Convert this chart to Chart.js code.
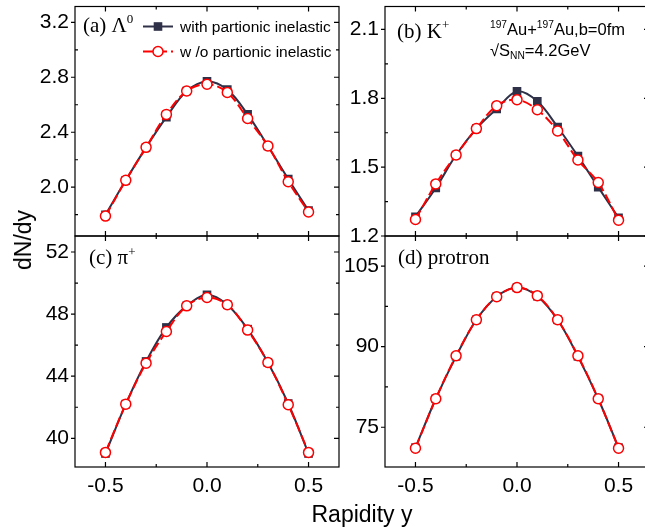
<!DOCTYPE html>
<html>
<head>
<meta charset="utf-8">
<script src="https://cdn.jsdelivr.net/npm/chart.js@4.4.1/dist/chart.umd.min.js"></script>
<style>
  html, body { margin: 0; padding: 0; background: #fff; }
  body { width: 645px; height: 529px; overflow: hidden; position: relative; }
  canvas { position: absolute; left: 0; top: 0; }
  .axis-title { position: absolute; font-family: 'Liberation Sans', Arial, sans-serif; font-size: 23px; color: #000; white-space: nowrap; line-height: 26px; }
  #ytitle { left: 23px; top: 240px; transform: translate(-50%, -50%) rotate(-90deg); }
  #xtitle { left: 362px; top: 501px; transform: translateX(-50%); }
</style>
</head>
<body>
<canvas id="panelA" width="660" height="529"></canvas>
<canvas id="panelB" width="660" height="529"></canvas>
<canvas id="panelC" width="660" height="529"></canvas>
<canvas id="panelD" width="660" height="529"></canvas>
<div class="axis-title" id="ytitle">dN/dy</div>
<div class="axis-title" id="xtitle">Rapidity y</div>
<script>
// rapidity bins (x) shared by all four panels
const rapidity = [-0.5, -0.4, -0.3, -0.2, -0.1, 0.0, 0.1, 0.2, 0.3, 0.4, 0.5];

const lambdaWith    = [1.80, 2.05, 2.29, 2.51, 2.70, 2.77, 2.71, 2.53, 2.30, 2.06, 1.83];
const lambdaWithout = [1.79, 2.05, 2.29, 2.53, 2.70, 2.75, 2.69, 2.50, 2.30, 2.04, 1.82];

const kaonWith    = [1.284, 1.409, 1.553, 1.668, 1.754, 1.830, 1.787, 1.675, 1.548, 1.413, 1.279];
const kaonWithout = [1.272, 1.427, 1.553, 1.668, 1.768, 1.794, 1.750, 1.658, 1.531, 1.433, 1.269];

const pionWith    = [39.02, 42.20, 44.95, 47.14, 48.53, 49.24, 48.60, 47.03, 44.88, 42.24, 39.02];
const pionWithout = [39.09, 42.20, 44.84, 46.88, 48.53, 49.07, 48.60, 46.97, 44.88, 42.16, 39.09];

const protonWith    = [71.2, 80.3, 88.2, 95.0, 99.3, 101.0, 99.4, 95.0, 88.2, 80.3, 71.2];
const protonWithout = [71.1, 80.3, 88.3, 95.0, 99.3, 101.0, 99.5, 95.0, 88.3, 80.3, 71.1];

// tick labels
const xTicks      = [-0.5, 0.0, 0.5];
const lambdaTicks = [2.0, 2.4, 2.8, 3.2];
const kaonTicks   = [1.2, 1.5, 1.8, 2.1];
const pionTicks   = [40, 44, 48, 52];
const protonTicks = [75, 90, 105];

const seriesNames = ['with partionic inelastic', 'w /o partionic inelastic'];

const darkLine = '#2e3148';
const redLine = '#ff0000';
const sans = "'Liberation Sans', Arial, sans-serif";
const serif = "'Liberation Serif', 'Times New Roman', serif";

Chart.defaults.font.family = sans;
Chart.defaults.font.size = 21;
Chart.defaults.color = '#000';

function toPoints(vals) {
    return rapidity.map((x, i) => ({ x: x, y: vals[i] }));
}

function minorsOf(majors, min, max) {
    const step = majors[1] - majors[0];
    let out = majors.map(v => v - step / 2);
    out.push(majors[majors.length - 1] + step / 2);
    return out.filter(v => v > min && v < max);
}

function drawRich(ctx, x, y, parts, size, family) {
    ctx.textBaseline = 'alphabetic';
    ctx.textAlign = 'left';
    for (const p of parts) {
        const s = (p.sup || p.sub) ? size * 0.62 : size;
        ctx.font = s + 'px ' + family;
        const dy = p.sup ? -size * 0.4 : (p.sub ? size * 0.2 : 0);
        ctx.fillText(p.t, x, y + dy);
        x += ctx.measureText(p.t).width;
    }
}

function zeroPad(s) {
    s.paddingTop = 0; s.paddingBottom = 0; s.paddingLeft = 0; s.paddingRight = 0;
}

function makePanel(id, cfg) {
    const yMinor = minorsOf(cfg.yTicks, cfg.yMin, cfg.yMax);
    const xMinor = minorsOf(xTicks, -0.65, 0.65);

    const frame = {
        id: 'frame',
        afterDraw(chart) {
            const ctx = chart.ctx;
            const a = chart.chartArea;
            const xs = chart.scales.x, ys = chart.scales.y;
            ctx.save();
            ctx.strokeStyle = '#000';
            ctx.lineWidth = 1.2;
            ctx.strokeRect(a.left, a.top, a.right - a.left, a.bottom - a.top);
            ctx.beginPath();
            xTicks.forEach(v => {
                const px = xs.getPixelForValue(v);
                ctx.moveTo(px, a.bottom); ctx.lineTo(px, a.bottom - 5);
                ctx.moveTo(px, a.top); ctx.lineTo(px, a.top + 5);
            });
            xMinor.forEach(v => {
                const px = xs.getPixelForValue(v);
                ctx.moveTo(px, a.bottom); ctx.lineTo(px, a.bottom - 3);
                ctx.moveTo(px, a.top); ctx.lineTo(px, a.top + 3);
            });
            cfg.yTicks.forEach(v => {
                const py = ys.getPixelForValue(v);
                ctx.moveTo(a.left - 4, py); ctx.lineTo(a.left, py);
                ctx.moveTo(a.right, py); ctx.lineTo(a.right - 5, py);
            });
            yMinor.forEach(v => {
                const py = ys.getPixelForValue(v);
                ctx.moveTo(a.left, py); ctx.lineTo(a.left + 3, py);
                ctx.moveTo(a.right, py); ctx.lineTo(a.right - 3, py);
            });
            ctx.stroke();

            // panel notes
            ctx.fillStyle = '#000';
            cfg.notes.forEach(n => {
                drawRich(ctx, a.left + n.dx, a.top + n.dy, n.parts, n.size, n.family);
            });

            // legend (panel a only)
            if (cfg.legend) {
                chart.data.datasets.forEach((ds, i) => {
                    const y = a.top + 20 + i * 25;
                    const x0 = a.left + 68;
                    ctx.save();
                    ctx.strokeStyle = ds.borderColor;
                    ctx.lineWidth = ds.borderWidth;
                    ctx.setLineDash(ds.borderDash || []);
                    ctx.beginPath();
                    ctx.moveTo(x0, y); ctx.lineTo(x0 + 30, y);
                    ctx.stroke();
                    ctx.setLineDash([]);
                    if (ds.pointStyle === 'rect') {
                        ctx.fillStyle = ds.backgroundColor;
                        ctx.fillRect(x0 + 15 - 4.3, y - 4.3, 8.6, 8.6);
                    } else {
                        ctx.fillStyle = ds.pointBackgroundColor;
                        ctx.lineWidth = ds.pointBorderWidth;
                        ctx.beginPath();
                        ctx.arc(x0 + 15, y, ds.pointRadius, 0, Math.PI * 2);
                        ctx.fill();
                        ctx.stroke();
                    }
                    ctx.fillStyle = '#000';
                    ctx.font = '15.5px ' + sans;
                    ctx.textBaseline = 'middle';
                    ctx.textAlign = 'left';
                    ctx.fillText(ds.label, x0 + 37, y + 1);
                    ctx.restore();
                });
            }
            ctx.restore();
        }
    };

    return new Chart(document.getElementById(id), {
        type: 'line',
        data: {
            datasets: [
                {
                    label: seriesNames[0],
                    data: toPoints(cfg.withVals),
                    borderColor: darkLine,
                    backgroundColor: darkLine,
                    borderWidth: 2,
                    pointStyle: 'rect',
                    pointRadius: 6.1,
                    pointBorderWidth: 0,
                    pointBackgroundColor: darkLine,
                    tension: 0.35,
                    order: 2
                },
                {
                    label: seriesNames[1],
                    data: toPoints(cfg.withoutVals),
                    borderColor: redLine,
                    backgroundColor: '#fff',
                    borderWidth: 2,
                    borderDash: [10, 4],
                    pointStyle: 'circle',
                    pointRadius: 5,
                    pointBorderWidth: 1.5,
                    pointBackgroundColor: '#fff',
                    pointBorderColor: redLine,
                    tension: 0.35,
                    order: 1
                }
            ]
        },
        options: {
            responsive: false,
            animation: false,
            events: [],
            layout: { padding: cfg.pad },
            plugins: {
                legend: { display: false },
                tooltip: { enabled: false }
            },
            scales: {
                x: {
                    type: 'linear',
                    min: -0.65,
                    max: 0.65,
                    grid: { display: false, drawTicks: false },
                    border: { display: false },
                    ticks: { display: cfg.showX, padding: 7, callback: v => v.toFixed(1) },
                    afterBuildTicks: s => { s.ticks = xTicks.map(v => ({ value: v })); },
                    afterFit: s => { s.height = cfg.showX ? 40 : 0; zeroPad(s); }
                },
                y: {
                    type: 'linear',
                    min: cfg.yMin,
                    max: cfg.yMax,
                    grid: { display: false, drawTicks: false },
                    border: { display: false },
                    ticks: { padding: 6, callback: cfg.fmt },
                    afterBuildTicks: s => { s.ticks = cfg.yTicks.map(v => ({ value: v })); },
                    afterFit: s => { s.width = cfg.yWidth; zeroPad(s); }
                }
            }
        },
        plugins: [frame]
    });
}

makePanel('panelA', {
    withVals: lambdaWith, withoutVals: lambdaWithout,
    yTicks: lambdaTicks, yMin: 1.645, yMax: 3.315, fmt: v => v.toFixed(1),
    pad: { left: 0, right: 321, top: 5, bottom: 293 }, yWidth: 75, showX: false,
    legend: true,
    notes: [{ dx: 8, dy: 25, size: 21, family: serif, parts: [{ t: '(a) Λ' }, { t: '0', sup: true }] }]
});

makePanel('panelB', {
    withVals: kaonWith, withoutVals: kaonWithout,
    yTicks: kaonTicks, yMin: 1.2, yMax: 2.2, fmt: v => v.toFixed(1),
    pad: { left: 325, right: 11, top: 5, bottom: 293 }, yWidth: 60, showX: false,
    legend: false,
    notes: [
        { dx: 12, dy: 31, size: 21, family: serif, parts: [{ t: '(b) K' }, { t: '+', sup: true }] },
        { dx: 105, dy: 28, size: 16.5, family: sans, parts: [{ t: '197', sup: true }, { t: 'Au+' }, { t: '197', sup: true }, { t: 'Au,b=0fm' }] },
        { dx: 105, dy: 49, size: 16.5, family: sans, parts: [{ t: '√S' }, { t: 'NN', sub: true }, { t: '=4.2GeV' }] }
    ]
});

makePanel('panelC', {
    withVals: pionWith, withoutVals: pionWithout,
    yTicks: pionTicks, yMin: 38.15, yMax: 53.03, fmt: v => String(v),
    pad: { left: 0, right: 321, top: 236, bottom: 22 }, yWidth: 75, showX: true,
    legend: false,
    notes: [{ dx: 14, dy: 28, size: 21, family: serif, parts: [{ t: '(c) π' }, { t: '+', sup: true }] }]
});

makePanel('panelD', {
    withVals: protonWith, withoutVals: protonWithout,
    yTicks: protonTicks, yMin: 67.6, yMax: 110.6, fmt: v => String(v),
    pad: { left: 325, right: 11, top: 236, bottom: 22 }, yWidth: 60, showX: true,
    legend: false,
    notes: [{ dx: 13, dy: 28, size: 21, family: serif, parts: [{ t: '(d) protron' }] }]
});
</script>
</body>
</html>
